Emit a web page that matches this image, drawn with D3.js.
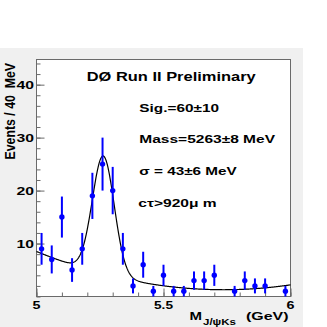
<!DOCTYPE html>
<html>
<head>
<meta charset="utf-8">
<script src="https://cdn.jsdelivr.net/npm/d3@7"></script>
<style>
  html, body { margin: 0; padding: 0; background: #ffffff; }
  svg { display: block; }
  text { font-family: "Liberation Sans", Arial, Helvetica, sans-serif; font-weight: bold; white-space: pre; }
</style>
</head>
<body>
<div id="chart"></div>
<script>
// ---------------- data ----------------
const massBins = [5.02, 5.06, 5.10, 5.14, 5.18, 5.22, 5.26, 5.30, 5.34, 5.38,
                  5.42, 5.46, 5.50, 5.54, 5.58, 5.62, 5.66, 5.70, 5.74, 5.78,
                  5.82, 5.86, 5.90, 5.94, 5.98];
const counts   = [9, 7, 15, 5, 9, 19, 25, 20, 9, 2,
                  6, 1, 4, 1, 1, 3, 3, 4, 0, 1,
                  3, 2, 2, 0, 1];
const yTickValues = [10, 20, 30, 40];
const yMinorTicks = d3.range(0, 45, 2);
const xTickValues = [5, 5.5, 6];
const xTickLabels = ["5", "5.5", "6"];
const xMinorTicks = d3.range(5, 6.001, 0.1);
// fit: gaussian signal (from the printed fit results) + quadratic background in (m - 5)
const fitSignal = [60, 5.263, 0.043];       // yield, mass (GeV), sigma (GeV)
const binWidth = 0.04;
const fitBackground = [8.5, -19.6, 13.3];
const titleText = "DØ Run II Preliminary";
const infoLines = ["Sig.=60±10", "Mass=5263±8 MeV", "σ = 43±6 MeV", "cτ>920μ m"];
const yTitle = "Events / 40  MeV";
const xTitleMain = "M", xTitleSub = "J/ψKs", xTitleUnit = "(GeV)";

// ---------------- layout ----------------
const W = 327, H = 327;
const svg = d3.select("#chart").append("svg").attr("width", W).attr("height", H);
svg.append("rect").attr("x", 0).attr("y", 0).attr("width", W).attr("height", H).attr("fill", "#ffffff");
svg.append("rect").attr("x", 0).attr("y", 48).attr("width", 303).attr("height", H - 48).attr("fill", "#f0f0f0");

const x = d3.scaleLinear().domain([5, 6]).range([36.5, 290.5]);
const y = d3.scaleLinear().domain([0, 44.75]).range([296.5, 59.5]);

svg.append("rect")
  .attr("x", x(5)).attr("y", y(44.75))
  .attr("width", x(6) - x(5)).attr("height", y(0) - y(44.75))
  .attr("fill", "#ffffff").attr("stroke", "#6a6a6a").attr("stroke-width", 1);

// axes ticks (inside)
function styleAxis(g) {
  g.select(".domain").remove();
  g.selectAll(".tick line").attr("stroke", "#6a6a6a").attr("stroke-width", 1);
}
svg.append("g").attr("transform", `translate(${x(5)},0)`)
  .call(d3.axisLeft(y).tickValues(yMinorTicks).tickSize(-4).tickFormat(""))
  .call(styleAxis);
svg.append("g").attr("transform", `translate(${x(5)},0)`)
  .call(d3.axisLeft(y).tickValues(yTickValues).tickSize(-8).tickFormat(""))
  .call(styleAxis);
svg.append("g").attr("transform", `translate(0,${y(0)})`)
  .call(d3.axisBottom(x).tickValues(xMinorTicks).tickSize(-4).tickFormat(""))
  .call(styleAxis);
svg.append("g").attr("transform", `translate(0,${y(0)})`)
  .call(d3.axisBottom(x).tickValues(xTickValues).tickSize(-8).tickFormat(""))
  .call(styleAxis);

// helper for horizontally stretched text
function stretchedText(parent, str, xPos, yPos, size, len) {
  return parent.append("text")
    .attr("x", xPos).attr("y", yPos)
    .attr("font-size", size)
    .attr("textLength", len)
    .attr("lengthAdjust", "spacingAndGlyphs")
    .attr("fill", "#000")
    .text(str);
}

// y tick labels
yTickValues.forEach(v => {
  stretchedText(svg, String(v), 34 - 17.5, y(v) + 4.2, 11.8, 17.5);
});
// x tick labels
xTickValues.forEach((v, i) => {
  const lab = xTickLabels[i];
  const w = lab.length === 1 ? 8 : 19;
  stretchedText(svg, lab, x(v) - w / 2, 308.5, 11.3, w);
});

// y title
const yt = svg.append("g").attr("transform", "translate(15,159.5) rotate(-90)");
stretchedText(yt, yTitle, 0, 0, 15.5, 96.5);

// x title
stretchedText(svg, xTitleMain, 189.5, 319.5, 11.8, 12.5);
stretchedText(svg, xTitleSub, 203, 324.5, 8.8, 33);
stretchedText(svg, xTitleUnit, 246, 319.5, 11.8, 42.5);

// texts
stretchedText(svg, titleText, 86.7, 80.7, 12, 169);
const infoX = [139.3, 139.3, 139.3, 138.3];
const infoY = [111.7, 143.3, 175, 206.7];
const infoLen = [79.7, 135.7, 97.4, 78.4];
infoLines.forEach((s, i) => stretchedText(svg, s, infoX[i], infoY[i], 11.8, infoLen[i]));

// fit curve
function fitFunc(m) {
  const [N, mu, sig] = fitSignal;
  const amp = N * binWidth / (Math.sqrt(2 * Math.PI) * sig);
  const u = m - 5;
  const bg = fitBackground[0] + fitBackground[1] * u + fitBackground[2] * u * u;
  return amp * Math.exp(-0.5 * ((m - mu) / sig) ** 2) + bg;
}
const curveX = d3.range(5, 6.0005, 0.002);
svg.append("path")
  .datum(curveX)
  .attr("fill", "none").attr("stroke", "#000").attr("stroke-width", 1.2)
  .attr("d", d3.line().x(d => x(d)).y(d => y(fitFunc(d))));

// data points with error bars
const pts = massBins.map((m, i) => ({ m, n: counts[i] })).filter(d => d.n > 0);
const gp = svg.append("g");
gp.selectAll("line.err").data(pts).join("line")
  .attr("class", "err")
  .attr("x1", d => x(d.m)).attr("x2", d => x(d.m))
  .attr("y1", d => y(d.n + Math.sqrt(d.n))).attr("y2", d => y(Math.max(0, d.n - Math.sqrt(d.n))))
  .attr("stroke", "#0000ff").attr("stroke-width", 2);
gp.selectAll("circle").data(pts).join("circle")
  .attr("cx", d => x(d.m)).attr("cy", d => y(d.n)).attr("r", 2.7)
  .attr("fill", "#0000ff");
</script>
</body>
</html>
